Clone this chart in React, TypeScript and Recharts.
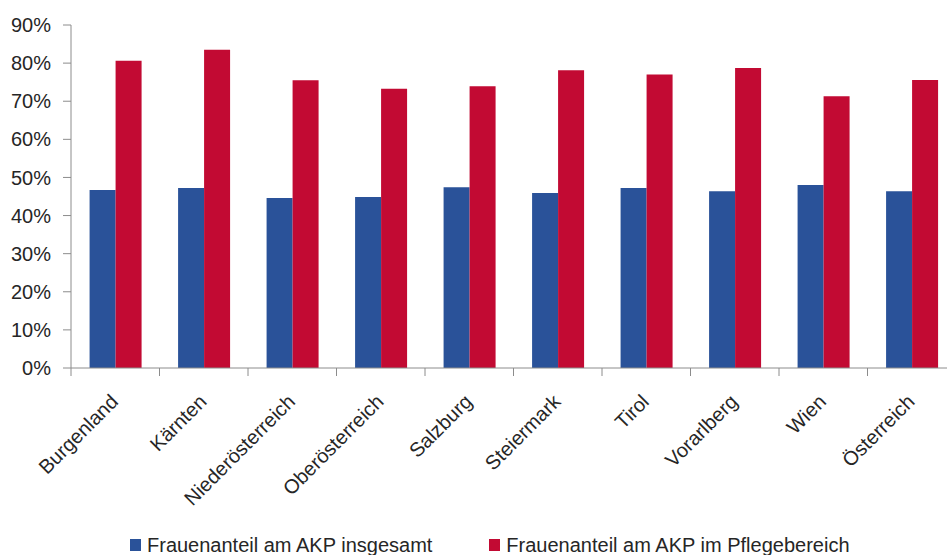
import {
  BarChart,
  Bar,
  XAxis,
  YAxis,
  Legend,
} from "recharts";

const regions = [
  "Burgenland",
  "Kärnten",
  "Niederösterreich",
  "Oberösterreich",
  "Salzburg",
  "Steiermark",
  "Tirol",
  "Vorarlberg",
  "Wien",
  "Österreich",
];

const insgesamt = [46.7, 47.2, 44.6, 44.9, 47.4, 45.9, 47.2, 46.4, 48.0, 46.4];
const pflege = [80.6, 83.5, 75.5, 73.3, 73.9, 78.1, 77.0, 78.7, 71.3, 75.6];

const yTicks = [0, 10, 20, 30, 40, 50, 60, 70, 80, 90];
const boundaryTicks = regions.map((_, i) => i).concat(regions.length);

const BLUE = "#2A5299";
const RED = "#C20A33";
const AXIS = "#8C8C8C";
const FONT = "'Liberation Sans', Arial, sans-serif";

const data = regions.map((name, i) => ({
  name,
  insgesamt: insgesamt[i],
  pflege: pflege[i],
  pos: i + 0.5,
}));

const legendItems = [
  { label: "Frauenanteil am AKP insgesamt", color: BLUE },
  { label: "Frauenanteil am AKP im Pflegebereich", color: RED },
];

function RegionTick(props: any) {
  const { x, y, payload } = props;
  return (
    <g transform={`translate(${x + 4},${y + 26})`}>
      <text
        textAnchor="end"
        transform="rotate(-45)"
        fontSize={20}
        fontFamily={FONT}
        fill="#262626"
      >
        {payload.value}
      </text>
    </g>
  );
}

function LegendContent() {
  return (
    <div
      style={{
        display: "flex",
        justifyContent: "flex-start",
        paddingLeft: 130,
        fontFamily: FONT,
        fontSize: 20,
        color: "#262626",
        lineHeight: "24px",
      }}
    >
      {legendItems.map((it, i) => (
        <div
          key={it.label}
          style={{
            display: "flex",
            alignItems: "center",
            marginRight: i === 0 ? 57 : 0,
          }}
        >
          <span
            style={{
              display: "inline-block",
              width: 11,
              height: 12,
              background: it.color,
              marginRight: 6,
            }}
          />
          {it.label}
        </div>
      ))}
    </div>
  );
}

export default function App() {
  return (
    <div
      style={{
        position: "fixed",
        left: 0,
        top: 0,
        width: 947,
        height: 555,
        overflow: "hidden",
        background: "#fff",
      }}
    >
      <BarChart
        width={975}
        height={560}
        data={data}
        margin={{ top: 25, right: 19, bottom: 0, left: 0 }}
        barCategoryGap="21%"
        barGap={0}
      >
        <XAxis
          xAxisId="b"
          dataKey="name"
          axisLine={false}
          tickLine={false}
          tick={<RegionTick />}
          interval={0}
          height={167}
        />
        <XAxis
          xAxisId="a"
          type="number"
          dataKey="pos"
          domain={[0, regions.length]}
          ticks={boundaryTicks}
          tick={() => <g />}
          tickSize={8}
          height={1}
          stroke={AXIS}
          interval={0}
          allowDataOverflow
        />
        <YAxis
          width={71}
          domain={[0, 90]}
          ticks={yTicks}
          tickFormatter={(v: number) => `${v}%`}
          tickSize={8}
          tickMargin={12}
          stroke={AXIS}
          tick={{ fill: "#262626", fontSize: 20, fontFamily: FONT }}
          interval={0}
        />
        <Legend
          verticalAlign="bottom"
          content={<LegendContent />}
          wrapperStyle={{ left: 0, width: 947, bottom: 3 }}
        />
        <Bar
          xAxisId="b"
          dataKey="insgesamt"
          fill={BLUE}
          isAnimationActive={false}
        />
        <Bar
          xAxisId="b"
          dataKey="pflege"
          fill={RED}
          isAnimationActive={false}
        />
      </BarChart>
    </div>
  );
}
